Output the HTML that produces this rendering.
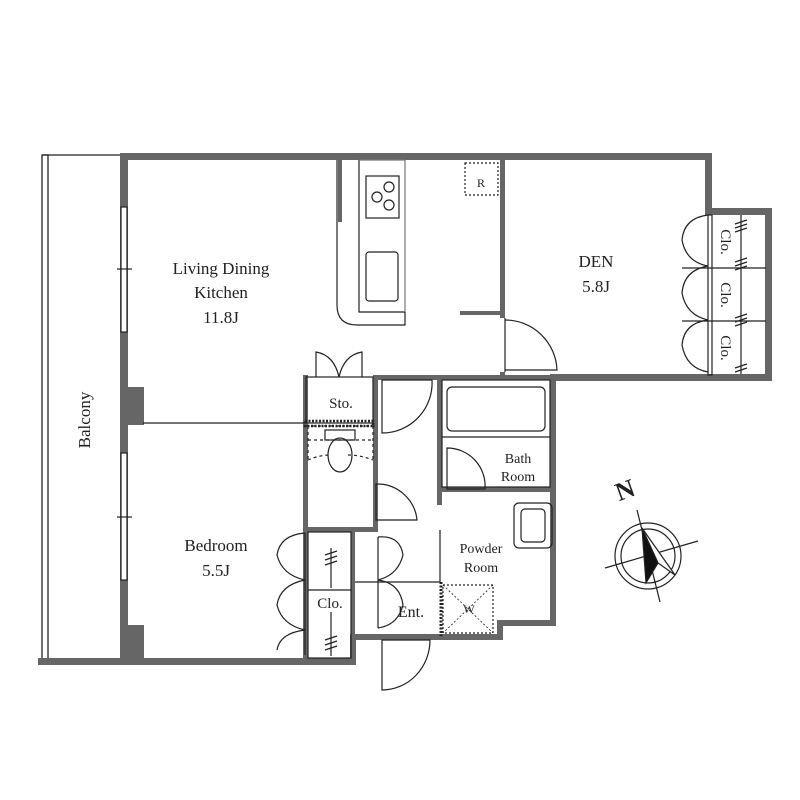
<!DOCTYPE html>
<html><head><meta charset="utf-8"><style>
html,body{margin:0;padding:0;background:#fff}
svg{display:block}
text{font-family:"Liberation Serif",serif;fill:#222}
</style></head><body>
<svg width="800" height="800" viewBox="0 0 800 800" xmlns="http://www.w3.org/2000/svg">
<g fill="none" stroke="#222" stroke-width="1.3">
<rect x="42" y="155" width="6" height="506"/>
<line x1="42" y1="155" x2="122" y2="155"/>
</g>
<g fill="#666" stroke="none">
<rect x="120" y="153" width="592" height="7"/>
<rect x="120" y="153" width="8" height="512"/>
<rect x="38" y="658" width="318" height="7"/>
<rect x="705" y="153" width="7" height="62"/>
<rect x="705" y="208" width="66" height="7"/>
<rect x="765" y="208" width="7" height="173"/>
<rect x="550" y="374" width="222" height="7"/>
<rect x="550" y="374" width="6" height="252"/>
<rect x="497" y="620" width="59" height="6"/>
<rect x="497" y="620" width="6" height="20"/>
<rect x="352" y="634" width="151" height="6"/>
<rect x="350" y="634" width="6" height="31"/>
<rect x="500" y="155" width="5" height="163"/>
<rect x="460" y="311" width="45" height="4"/>
<rect x="500" y="372" width="5" height="8"/>
<rect x="373" y="375" width="182" height="5"/>
<rect x="303" y="375" width="5" height="287"/>
<rect x="373" y="375" width="5" height="50"/>
<rect x="122" y="387" width="22" height="38"/>
<rect x="122" y="625" width="22" height="37"/>
<rect x="303" y="527" width="75" height="5"/>
<rect x="373" y="375" width="5" height="157"/>
<rect x="351" y="527" width="4" height="110"/>
<rect x="437" y="375" width="5" height="115"/>
<rect x="437" y="487" width="118" height="5"/>
<rect x="437" y="490" width="5" height="15"/>
<rect x="338" y="159" width="4" height="63"/>
</g>
<g fill="#fff" stroke="#222" stroke-width="1.2">
<rect x="121" y="207" width="6" height="125"/>
<rect x="121" y="453" width="6" height="127"/>
</g>
<g stroke="#222" stroke-width="1.2" fill="none">
<line x1="117" y1="269" x2="132" y2="269"/><line x1="117" y1="517" x2="132" y2="517"/>
<line x1="143" y1="423" x2="305" y2="423"/>
<path d="M337 160 V305 Q337 325 357 325 H405 V312 H359 V160"/>
<path d="M359 160 H405 V312" stroke="#777"/>
<rect x="366" y="176" width="33" height="42"/>
<circle cx="377" cy="197" r="5"/><circle cx="389" cy="187" r="5"/><circle cx="389" cy="205" r="5"/>
<rect x="366" y="252" width="32" height="49" rx="3"/>
<rect x="465" y="163" width="33" height="32" stroke-dasharray="2,2"/>
<line x1="505" y1="318" x2="505" y2="372"/>
<path d="M505 320 A52 52 0 0 1 557 370 H505"/>
<rect x="306" y="377" width="67" height="46"/>
<path d="M316 377 V352 Q334 355 339 377 Q344 355 362 352 V377"/>
<rect x="305" y="421" width="68" height="5" stroke-dasharray="2,1.5" stroke-width="2.5"/>
<path d="M306 426 H376 M308 440 H373 M308 460 Q320 455 330 455 M348 455 Q360 455 373 460" stroke-dasharray="3,3"/>
<path d="M308 426 V460 M373 426 V460" stroke-dasharray="3,3"/>
<rect x="325" y="430" width="30" height="10"/>
<ellipse cx="340" cy="455" rx="12" ry="17"/>
<path d="M382 380 H432 A50 50 0 0 1 382 433 Z"/>
<path d="M376 484 A40 40 0 0 1 417 520 H376 Z"/>
<path d="M378 537 V628 M378 537 Q400 535 403 555 Q398 575 378 580 Q400 583 403 605 Q398 625 378 628"/>
<line x1="355" y1="582" x2="440" y2="582"/>
<line x1="440" y1="530" x2="440" y2="582"/>
<rect x="442" y="380" width="108" height="107"/>
<rect x="447" y="387" width="98" height="44" rx="5"/>
<line x1="442" y1="437" x2="550" y2="437"/>
<path d="M447 448 A38 38 0 0 1 485 489 H447 Z"/>
<rect x="514" y="503" width="38" height="45" rx="5"/>
<rect x="521" y="509" width="24" height="33" rx="4"/>
<rect x="443" y="585" width="50" height="48" stroke-dasharray="2,2"/>
<path d="M443 585 L493 633 M493 585 L443 633" stroke-dasharray="2,2" stroke-width="0.8"/>
<line x1="441" y1="582" x2="441" y2="636" stroke-width="3" stroke-dasharray="2,1.5"/>
<path d="M382 640 H430 A48 50 0 0 1 382 690 Z"/>
<rect x="308" y="532" width="43" height="126"/>
<line x1="308" y1="590" x2="351" y2="590"/>
<path d="M305 533 V655 M305 533 Q280 535 277 555 Q282 575 305 580 Q280 585 277 605 Q282 625 305 630 Q280 633 277 650"/>
<line x1="331" y1="548" x2="331" y2="588"/><line x1="331" y1="612" x2="331" y2="656"/>
<path d="M325 555 l12 -4 M325 560 l12 -4 M325 565 l12 -4 M325 640 l12 -4 M325 645 l12 -4 M325 650 l12 -4"/>
<rect x="708" y="215" width="4" height="160"/>
<line x1="682" y1="268" x2="766" y2="268"/><line x1="682" y1="321" x2="766" y2="321"/>
<line x1="741" y1="215" x2="741" y2="374"/>
<path d="M708 215 Q684 218 682 240 Q686 262 708 266 Q684 270 682 293 Q686 315 708 320 Q684 323 682 345 Q686 368 708 372"/>
<path d="M735 224 l12 -4 M735 228 l12 -4 M735 232 l12 -4 M735 262 l12 -4 M735 266 l12 -4 M735 270 l12 -4 M735 318 l12 -4 M735 322 l12 -4 M735 326 l12 -4 M735 368 l12 -4 M735 372 l12 -4"/>
<circle cx="648" cy="556" r="33"/><circle cx="648" cy="556" r="27"/>
<line x1="637" y1="510" x2="660" y2="602"/>
<line x1="605" y1="568" x2="698" y2="541"/>
<path d="M642 528 L675 575 L658 563 Z" fill="#fff"/>
<path d="M642 528 L658 563 L646 583 Z" fill="#111"/>
</g>
<text x="221" y="274" font-size="17" text-anchor="middle">Living Dining</text>
<text x="221" y="298" font-size="17" text-anchor="middle">Kitchen</text>
<text x="221" y="323" font-size="17" text-anchor="middle">11.8J</text>
<text x="481" y="187" font-size="12" text-anchor="middle">R</text>
<text x="596" y="267" font-size="17" text-anchor="middle">DEN</text>
<text x="596" y="292" font-size="17" text-anchor="middle">5.8J</text>
<text x="216" y="551" font-size="17" text-anchor="middle">Bedroom</text>
<text x="216" y="576" font-size="17" text-anchor="middle">5.5J</text>
<text transform="translate(90,420) rotate(-90)" font-size="17" text-anchor="middle">Balcony</text>
<text x="341" y="408" font-size="15" text-anchor="middle">Sto.</text>
<text x="518" y="463" font-size="14" text-anchor="middle">Bath</text>
<text x="518" y="481" font-size="14" text-anchor="middle">Room</text>
<text x="481" y="553" font-size="14" text-anchor="middle">Powder</text>
<text x="481" y="572" font-size="14" text-anchor="middle">Room</text>
<text x="411" y="617" font-size="16" text-anchor="middle">Ent.</text>
<text x="469" y="613" font-size="12" text-anchor="middle">W</text>
<text x="330" y="608" font-size="15" text-anchor="middle">Clo.</text>
<text transform="translate(721,242) rotate(90)" font-size="15" text-anchor="middle">Clo.</text>
<text transform="translate(721,295) rotate(90)" font-size="15" text-anchor="middle">Clo.</text>
<text transform="translate(721,348) rotate(90)" font-size="15" text-anchor="middle">Clo.</text>
<text transform="translate(628,498) rotate(-20)" font-size="26" font-weight="bold" text-anchor="middle">N</text>
</svg>
</body></html>
